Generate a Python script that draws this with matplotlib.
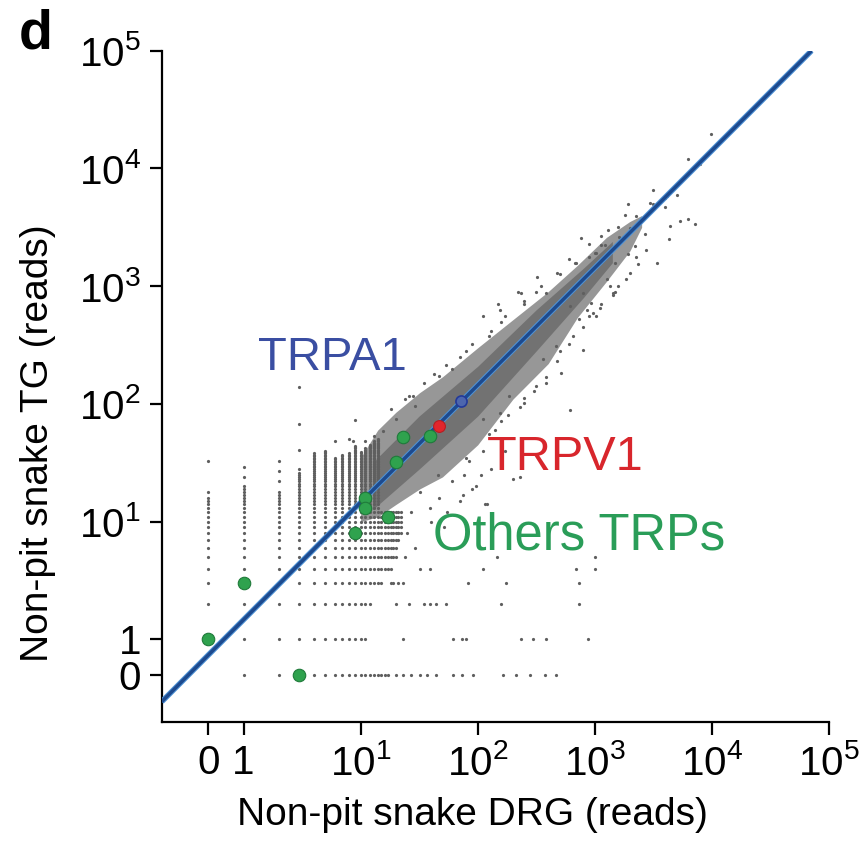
import numpy as np
import matplotlib
matplotlib.use("Agg")
import matplotlib.pyplot as plt

plt.rcParams['font.family'] = ['Liberation Sans', 'DejaVu Sans']
plt.rcParams['mathtext.fontset'] = 'custom'
plt.rcParams['mathtext.rm'] = 'Liberation Sans'
plt.rcParams['mathtext.it'] = 'Liberation Sans:italic'
plt.rcParams['mathtext.bf'] = 'Liberation Sans:bold'

# ---------------- data (read counts) ----------------
# low-count columns: DRG value with the range of TG values present
col_drg = [0, 1, 2, 3, 4, 5, 6, 7, 8, 9, 10, 11, 12, 13, 14]
col_tg_lo = [2, 0, 0, 1, 0, 0, 0, 0, 0, 0, 13, 13, 13, 13, 13]
col_tg_hi = [16, 20, 18, 26, 38, 40, 35, 37, 38, 44, 39, 42, 45, 48, 50]
# low-count rows: TG value with the range of DRG values present
row_tg = [0, 1, 2, 3, 4, 5, 6, 7, 8, 9, 10, 11, 12]
row_drg_lo = [10, 10, 10, 10, 10, 10, 10, 10, 10, 10, 10, 10, 10]
row_drg_hi = [16, 11, 12, 14, 18, 20, 20, 21, 22, 22, 22, 22, 22]

# sparse genes on the low-count rows
row0_drg = [17, 20, 23, 27, 32, 37, 44, 61, 74, 91, 165, 214, 278, 372, 470]
row1_drg = [23, 61, 74, 80, 236, 297, 386, 870]
row2_drg = [20, 26, 35, 39, 44, 54, 159, 740]
row3_drg = [15, 18, 19, 21, 23, 83, 176, 740]
row4_drg = [32, 39, 111, 697, 1000]
row5_drg = [24, 145, 1000]
row6_drg = [29]

# scattered genes outside the dense band
sparse_drg = [9900, 6300, 3160, 1930, 5000, 5350, 6300, 7160, 4370, 4270, 2700, 2750,
              3390, 2340, 1930, 2190, 1480, 1430, 1260, 770, 1140, 1220, 676, 930,
              967, 740, 611, 550, 794, 2950, 4100, 1600, 1000, 2000,
              234, 111, 155, 54, 28, 47, 697, 386, 1020,
              611, 519, 386, 251, 155, 1435, 1350, 1860, 1020, 850, 653, 468, 794,
              363, 186, 111,
              77, 107, 97, 75, 119, 200, 229, 47, 39, 46, 32, 27, 21, 52, 25, 115,
              8.6, 13, 26, 29, 20, 15.5, 11, 3, 3, 3, 3, 6, 8, 9,
              0, 0, 1, 1, 2, 2, 2,
              80, 80, 126, 126, 158, 158, 251, 251, 316, 316, 501, 501, 891, 891,
              1122, 1122, 1585, 1585, 2239, 2239, 3162, 3981, 3981, 7943, 12600, 15800,
              60, 70, 90, 130, 170, 250, 350, 480, 600, 900, 1300, 1800,
              60, 85, 110, 140, 180, 230, 300, 380, 480, 600, 800, 1100, 1500, 2000,
              35, 42, 18, 24, 150, 220, 320,
              40, 55, 70, 90, 130, 170]
sparse_tg = [19500, 12000, 6500, 5000, 5900, 3550, 3700, 3350, 3240, 2500, 2750, 2040,
             1580, 1530, 1860, 2190, 1580, 850, 1150, 2570, 2690, 2260, 1580, 725,
             596, 525, 676, 822, 880, 5100, 5800, 2600, 1900, 3100,
             880, 557, 630, 216, 116, 172, 1580, 880, 1930,
             89, 184, 151, 102, 84, 880, 1000, 1150, 557, 630, 376, 309, 288,
             240, 116, 74,
             25, 25, 20, 17, 14, 23, 24, 16, 13, 25, 18, 12, 8, 9, 8, 14,
             48, 53, 116, 96, 74, 59, 48, 67, 140, 41, 28, 48, 50, 73,
             18, 33, 24, 29, 22, 27, 33,
             282, 35, 380, 56, 500, 71, 708, 112, 891, 141, 1259, 282, 1778, 562,
             2239, 708, 3162, 1000, 3981, 1778, 5012, 4700, 5600, 11000, 18000, 23000,
             200, 250, 320, 420, 560, 750, 1000, 1300, 1700, 2300, 3000, 4000,
             22, 33, 40, 60, 80, 95, 130, 170, 230, 320, 450, 650, 900, 1300,
             150, 180, 90, 110, 700, 900, 1200,
             10, 12, 15, 19, 28, 40]

# dense band of genes (outer envelope and darker core)
band_drg = [10, 14, 20, 32, 50, 100, 200, 400, 708, 1259, 1995, 2512]
band_tg_lo = [10, 11, 14, 19, 24, 45, 110, 220, 540, 1100, 1995, 3162]
band_tg_hi = [35, 60, 85, 125, 170, 300, 520, 900, 1500, 2600, 3548, 3981]
core_drg = [12.6, 31.6, 100, 316, 794, 1413]
core_tg_lo = [12.6, 28, 79, 282, 794, 1585]
core_tg_hi = [31.6, 79, 209, 631, 1413, 2399]

# regression line end points
line_drg = [0.2, 71000]
line_tg = [0.296, 100000]

# TRP channels
others_drg = [0, 1, 3, 9, 11, 11, 17, 20, 23, 39]
others_tg = [1, 3, 0, 8, 16, 13, 11, 32, 52, 53]
trpv1_drg = [47]
trpv1_tg = [65]
trpa1_drg = [72]
trpa1_tg = [105]

xtick_vals = [0, 1, 10, 100, 1000, 10000, 100000]
xtick_labels = ['0', '1', r'$10^1$', r'$10^2$', r'$10^3$', r'$10^4$', r'$10^5$']
ytick_vals = [0, 1, 10, 100, 1000, 10000, 100000]
ytick_labels = ['0', '1', r'$10^1$', r'$10^2$', r'$10^3$', r'$10^4$', r'$10^5$']


def pos(v):
    v = np.asarray(v, dtype=float)
    return np.where(v > 0, v, 0.5)


# expand the grid of low counts
gx, gy = [], []
for x, lo, hi in zip(col_drg, col_tg_lo, col_tg_hi):
    for y in range(lo, hi + 1):
        gx.append(x); gy.append(y)
for y, lo, hi in zip(row_tg, row_drg_lo, row_drg_hi):
    for x in range(lo, hi + 1):
        gx.append(x); gy.append(y)
for y, xs in zip([0, 1, 2, 3, 4, 5, 6],
                 [row0_drg, row1_drg, row2_drg, row3_drg, row4_drg, row5_drg, row6_drg]):
    for x in xs:
        gx.append(x); gy.append(y)
gx += sparse_drg
gy += sparse_tg

# ---------------- figure ----------------
fig = plt.figure(figsize=(8.68, 8.51), dpi=100)
ax = fig.add_axes([0.1863, 0.1519, 0.955 - 0.1863, 0.9404 - 0.1519])
ax.set_xscale('log')
ax.set_yscale('log')
ax.set_xlim(0.2, 1e5)
ax.set_ylim(0.2, 1e5)

ax.fill_between(band_drg, band_tg_lo, band_tg_hi, color='#979797', lw=0, zorder=1)
ax.fill_between(core_drg, core_tg_lo, core_tg_hi, color='#727272', lw=0, zorder=1.1)
ax.plot(pos(gx), pos(gy), 'o', ms=2.3, color='#5f5f5f', mec='none', zorder=2)

ax.plot(line_drg, line_tg, color='#4f93d6', lw=4.0, solid_capstyle='butt', zorder=3)
ax.plot(line_drg, line_tg, color='#1d4a8e', lw=2.5, solid_capstyle='butt', zorder=3.1)

ax.plot(pos(others_drg), pos(others_tg), 'o', ms=9, mfc='#2fa24e', mec='#1f7a3a',
        mew=0.8, zorder=4)
ax.plot(pos(trpv1_drg), pos(trpv1_tg), 'o', ms=8.5, mfc='#e2262c', mec='#b81d22',
        mew=0.8, zorder=4)
ax.plot(pos(trpa1_drg), pos(trpa1_tg), 'o', ms=8, mfc='#4d66ad', mec='#22399a',
        mew=1.2, zorder=4)

for s in ['top', 'right']:
    ax.spines[s].set_visible(False)
for s in ['left', 'bottom']:
    ax.spines[s].set_linewidth(1.6)

ax.set_xticks(pos(xtick_vals))
ax.set_xticklabels(xtick_labels)
ax.set_yticks(pos(ytick_vals))
ax.set_yticklabels(ytick_labels)
ax.minorticks_off()
ax.tick_params(axis='both', which='major', direction='out', length=9, width=1.6,
               labelsize=29, pad=6, colors='black')
ax.tick_params(axis='x', pad=7)

ax.set_xlabel('Non-pit snake DRG (reads)', fontsize=28)
ax.set_ylabel('Non-pit snake TG (reads)', fontsize=28)
ax.xaxis.set_label_coords(0.465, -0.112)
ax.yaxis.set_label_coords(-0.158, 0.415)

ax.text(0.144, 0.524, 'TRPA1', transform=ax.transAxes, fontsize=34, color='#3a4ea2',
        ha='left', va='baseline', zorder=5)
ax.text(0.4875, 0.375, 'TRPV1', transform=ax.transAxes, fontsize=35, color='#d8262c',
        ha='left', va='baseline', zorder=5)
ax.text(0.4066, 0.257, 'Others TRPs', transform=ax.transAxes, fontsize=36.5,
        color='#2a9d58', ha='left', va='baseline', zorder=5)

fig.text(0.022, 0.99, 'd', fontsize=40, fontweight='bold', ha='left', va='top')

fig.savefig('out.png', dpi=100)
